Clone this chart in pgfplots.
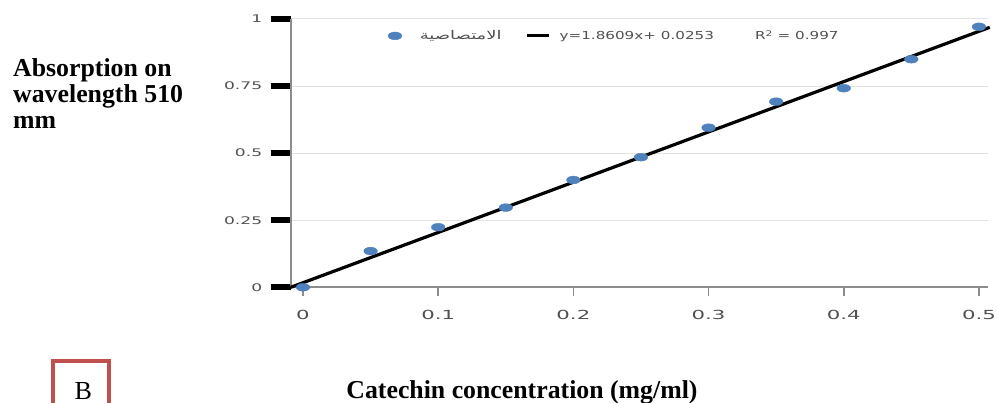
\documentclass[border=0pt]{standalone}
\usepackage{fontspec}
\usepackage{pgfplots}
\pgfplotsset{compat=1.18}
\setmainfont{Liberation Serif}
\newfontfamily\xtk[FakeStretch=1.7]{DejaVu Sans}
\newfontfamily\ytk[FakeStretch=1.63]{DejaVu Sans}
\newfontfamily\lgd[FakeStretch=1.38]{DejaVu Sans}
\newfontfamily\arabicfont[Script=Arabic,FakeStretch=1.5]{DejaVu Sans}
\TeXXeTstate=1
\definecolor{ptblue}{HTML}{4F81BD}
\definecolor{tkgray}{HTML}{505050}
\definecolor{axgray}{HTML}{8C8C8C}
\definecolor{boxred}{HTML}{C0504D}
\begin{document}
\begin{tikzpicture}
\useasboundingbox (-290.7bp,-115.7bp) rectangle (707.3bp,287.3bp);
\begin{axis}[
  at={(0,0)}, anchor=south west,
  scale only axis,
  width=697.3bp, height=268.3bp,
  xmin=-0.0091, xmax=0.5067, ymin=0, ymax=1,
  axis x line=bottom, axis y line=left,
  axis line style={-, axgray, line width=2bp},
  tick align=outside,
  xtick={0,0.1,0.2,0.3,0.4,0.5},
  ytick={0,0.25,0.5,0.75,1},
  major tick length=20bp,
  xtick style={draw=axgray, line width=1.5bp, /pgfplots/major tick length=9bp},
  ytick style={draw=black, line width=6bp},
  ymajorgrids, grid style={draw=gray!22, line width=1bp},
  /pgf/number format/assume math mode=true,
  xticklabel style={font=\xtk\fontsize{12.5bp}{14bp}\selectfont, text=tkgray, yshift=1bp},
  yticklabel style={font=\ytk\fontsize{10.5bp}{12bp}\selectfont, text=tkgray, xshift=-5bp},
  legend style={at={(rel axis cs:0.1395,0.937)}, anchor=west, draw=none, fill=none,
    inner sep=0pt, font=\lgd\fontsize{11bp}{13bp}\selectfont, text=tkgray,
    /tikz/every odd column/.style={column sep=7bp},
    /tikz/every even column/.style={column sep=22bp}},
  legend columns=3,
  clip=false,
]
\addplot[only marks, mark=*, mark size=3.9bp, color=ptblue,
  mark options={xscale=1.75, draw=none, fill=ptblue}]
  coordinates {
  (0,0.0) (0.05,0.135) (0.1,0.224) (0.15,0.297) (0.2,0.400) (0.25,0.485)
  (0.3,0.595) (0.35,0.692) (0.4,0.742) (0.45,0.850) (0.5,0.971)
  };
\addlegendentry{\hspace*{9bp}{\arabicfont\fontsize{12bp}{14bp}\selectfont\beginR الامتصاصية\endR}}
\addplot[black, line width=3.2bp,
  legend image code/.code={\draw[black, line width=3bp] (0bp,0bp) -- (22bp,0bp);}]
  coordinates {(-0.0091,0) (0.508,0.969)};
\addlegendentry{y=1.8609x+ 0.0253}
\addlegendimage{empty legend}
\addlegendentry{\hspace*{8bp}R\textsuperscript{2} = 0.997}
\end{axis}
\node[anchor=base west, font=\bfseries\fontsize{25.8bp}{27bp}\selectfont] at (-281bp,210.8bp) {Absorption on};
\node[anchor=base west, font=\bfseries\fontsize{25.8bp}{27bp}\selectfont] at (-281bp,185bp) {wavelength 510};
\node[anchor=base west, font=\bfseries\fontsize{25.8bp}{27bp}\selectfont] at (-281bp,159.2bp) {mm};
\node[anchor=base, font=\bfseries\fontsize{25.8bp}{27bp}\selectfont] at (231.3bp,-111bp) {Catechin concentration (mg/ml)};
\draw[boxred, line width=4bp] (-238bp,-130bp) rectangle (-182bp,-74bp);
\node[font=\fontsize{26bp}{28bp}\selectfont] at (-207.4bp,-103.4bp) {B};
\end{tikzpicture}
\end{document}
